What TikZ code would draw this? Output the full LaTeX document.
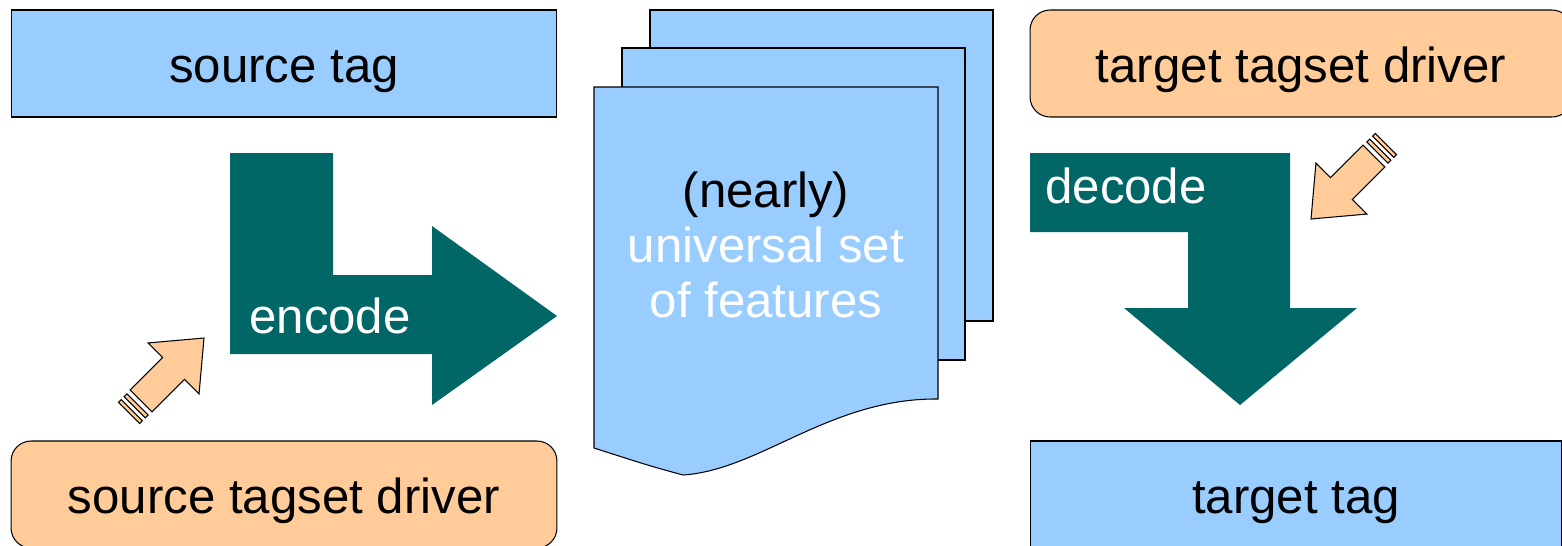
\documentclass[tikz,border=0pt]{standalone}
\usepackage{fontspec}
\setmainfont{Liberation Sans}
\usepackage{xcolor}
\usepackage{tikz}
\usetikzlibrary{positioning}

\definecolor{tagblue}{HTML}{99CCFF}
\definecolor{drvpeach}{HTML}{FFCC99}
\definecolor{codeteal}{HTML}{006666}

\newcommand{\bigfont}{\fontsize{28}{31.5}\selectfont}

\tikzset{
    tagbox/.style={draw, fill=tagblue, line width=0.6pt, minimum width=10.92cm, minimum height=2.14cm,
        inner sep=0pt, text height=0.74cm, text depth=0pt, font=\bigfont},
    drvbox/.style={tagbox, fill=drvpeach, rounded corners=0.4cm},
    bigarrow/.style={fill=codeteal},
    hintarrow/.style={draw, fill=drvpeach, line width=0.6pt},
    sheet/.style={draw, fill=tagblue, line width=0.6pt},
    lbl/.style={font=\bigfont, inner sep=0pt}
}

\newcommand{\stripedarrow}{%
    \filldraw[hintarrow] (0,0) -- (-43,36) -- (-43,15.5) -- (-89,15.5) -- (-89,-15.5) -- (-43,-15.5) -- (-43,-36) -- cycle;
    \filldraw[hintarrow] (-98,15) rectangle (-94,-15);
    \filldraw[hintarrow] (-106,15) rectangle (-102,-15);
}

\begin{document}
\begin{tikzpicture}[x=0.02cm, y=-0.02cm]
    \useasboundingbox (0,0) rectangle (1562,545);
    \clip (0,0) rectangle (1562,545);

    \node[tagbox] (srctag) at (284,63.5) {source tag};
    \node[drvbox, minimum width=10.84cm] (tgtdrv) at (1301,63.5) {target tagset driver};
    \node[drvbox] (srcdrv) at (284,494.5) {source tagset driver};
    \node[tagbox, minimum width=10.64cm] (tgttag) at (1296,494.5) {target tag};

    \fill[bigarrow] (230,153) -- (333,153) -- (333,275) -- (432,275) -- (432,226) -- (557,316)
        -- (432,405) -- (432,354) -- (230,354) -- cycle;
    \node[lbl, text=white] (enc) at (330,316) {encode};

    \fill[bigarrow] (1030,153) -- (1290,153) -- (1290,308) -- (1357,308) -- (1240,405)
        -- (1124,308) -- (1188,308) -- (1188,232) -- (1030,232) -- cycle;
    \node[lbl, text=white] (dec) at (1126,186) {decode};

    \filldraw[sheet] (650,10) rectangle (993,321);
    \filldraw[sheet] (622,48) rectangle (965,360);
    \filldraw[sheet] (594,87) -- (938,87) -- (938,399) .. controls (830,398) and (760,470) .. (683,475)
        .. controls (650,466) .. (594,448) -- cycle;
    \node[lbl, align=center] (feat) at (766,245) {(nearly)\\\textcolor{white}{universal set}\\\textcolor{white}{of features}};

    \begin{scope}[shift={(204,338)}, rotate=45]
        \stripedarrow
    \end{scope}
    \begin{scope}[shift={(1311,219)}, rotate=225]
        \stripedarrow
    \end{scope}
\end{tikzpicture}
\end{document}
